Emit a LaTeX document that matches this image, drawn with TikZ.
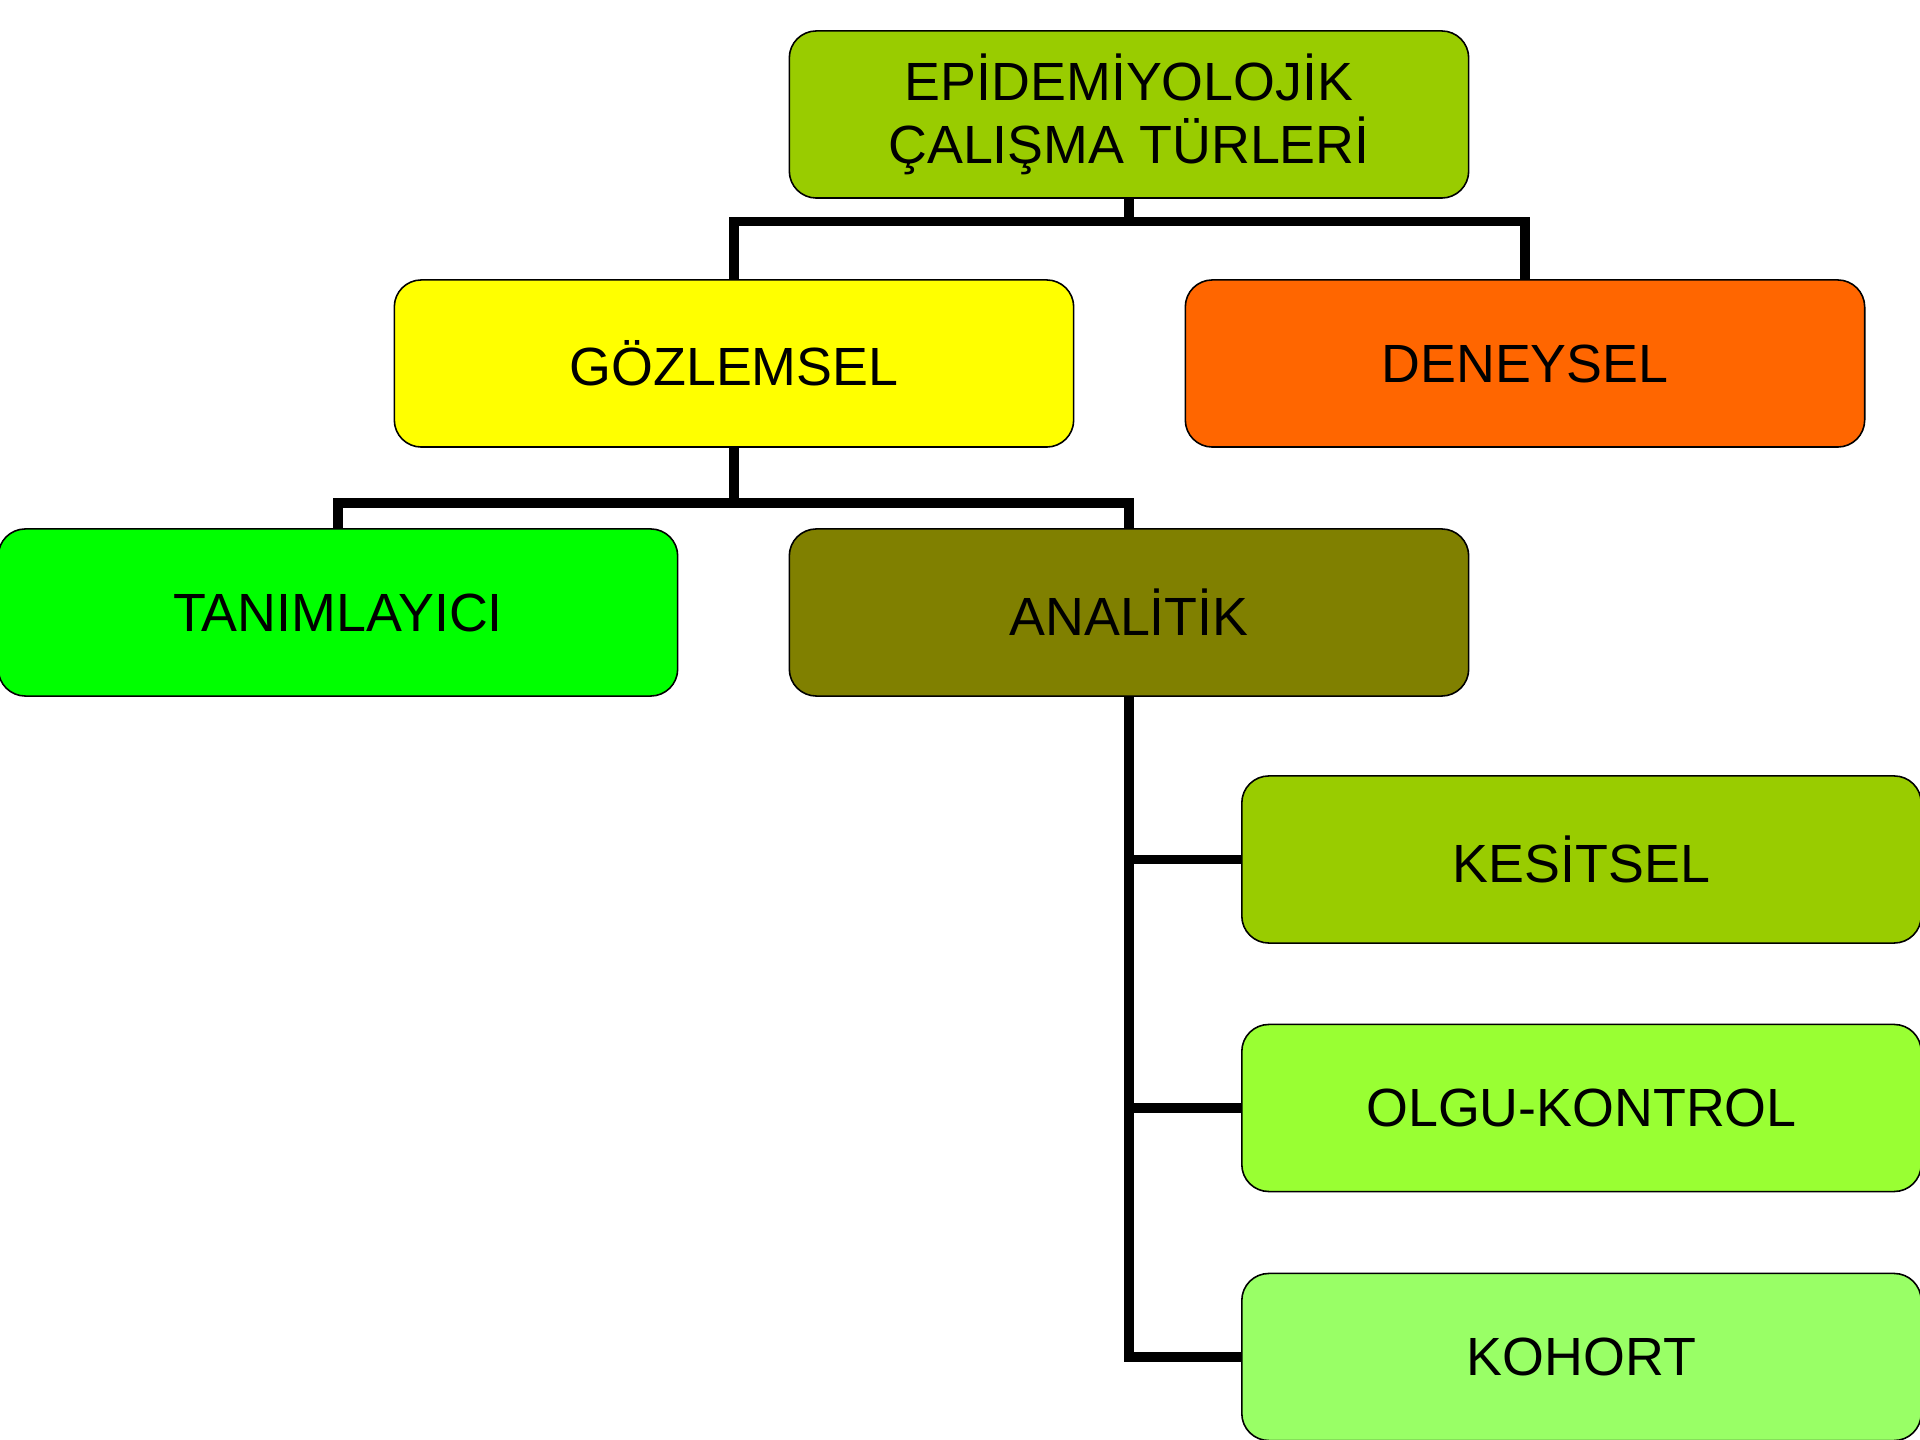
\documentclass[tikz,border=0pt]{standalone}
\usepackage{fontspec}
\setmainfont{Liberation Sans}
\definecolor{oliveg}{HTML}{99CC00}
\definecolor{yell}{HTML}{FFFF00}
\definecolor{orng}{HTML}{FF6600}
\definecolor{brgreen}{HTML}{00FF00}
\definecolor{olive}{HTML}{808000}
\definecolor{lime1}{HTML}{99FF33}
\definecolor{lime2}{HTML}{99FF66}
\begin{document}
\begin{tikzpicture}[x=0.01cm,y=-0.01cm,
    box/.style={draw=black,line width=0.45pt,rounded corners=0.27cm,
      minimum width=6.79cm,minimum height=1.67cm,align=center,
      font=\fontsize{15.3}{18.1}\selectfont},
    conn/.style={line width=2.7pt,black}]
  \useasboundingbox (0,0) rectangle (1920,1440);
  \node[box,fill=oliveg] (top) at (1129,114.5) {EPİDEMİYOLOJİK\\ÇALIŞMA TÜRLERİ};
  \node[box,fill=yell] (goz) at (734,363.5) {GÖZLEMSEL};
  \node[box,fill=orng] (den) at (1525,363.5) {DENEYSEL};
  \node[box,fill=brgreen] (tan) at (338,612.5) {TANIMLAYICI};
  \node[box,fill=olive] (ana) at (1129,612.5) {ANALİTİK};
  \node[box,fill=oliveg] (kes) at (1581.5,859.5) {KESİTSEL};
  \node[box,fill=lime1] (olg) at (1581.5,1108) {OLGU-KONTROL};
  \node[box,fill=lime2] (koh) at (1581.5,1357) {KOHORT};
  \coordinate (j1) at (1129,221.6);
  \coordinate (j2) at (734,503);
  \begin{scope}[conn]
    \draw (top.south) -- (j1);
    \draw (goz.north) |- (j1) -| (den.north);
    \draw (goz.south) -- (j2);
    \draw (tan.north) |- (j2) -| (ana.north);
    \draw (ana.south) |- (koh.west);
    \draw (ana.south |- kes.west) -- (kes.west);
    \draw (ana.south |- olg.west) -- (olg.west);
  \end{scope}
\end{tikzpicture}
\end{document}
